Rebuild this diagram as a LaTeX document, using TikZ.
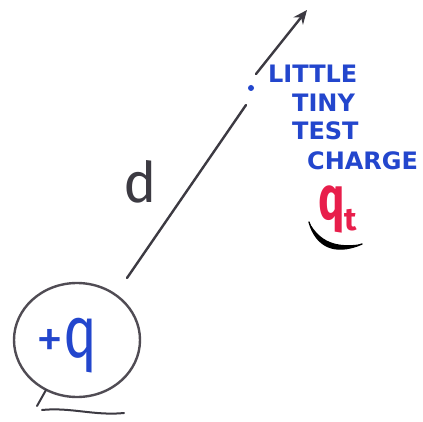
\documentclass[tikz,border=0pt]{standalone}
\usepackage{fontspec}
\setmainfont{Fira Sans}
\newfontfamily\capsfont{DejaVu Sans}
\usetikzlibrary{arrows.meta,shapes.geometric}
\definecolor{ink}{RGB}{60,58,66}
\definecolor{pen}{RGB}{35,70,205}
\definecolor{redpen}{RGB}{232,30,75}
\tikzset{
  stroke/.style={draw=ink, line width=2.4pt, line cap=round, line join=round},
  bluetxt/.style={text=pen, font=\capsfont\fontsize{24}{24}\selectfont\bfseries, inner sep=0pt, anchor=west},
}
\begin{document}
\begin{tikzpicture}[x=1pt,y=-1pt]
\useasboundingbox[fill=white] (0,0) rectangle (423,422);
% source charge
\node[stroke, draw={rgb,255:red,80;green,76;blue,84}, ellipse, minimum width=126pt, minimum height=114pt, inner sep=0pt] (src) at (77,340) {};
\node[text=pen, font=\fontsize{54}{54}\selectfont, inner sep=0pt] (q) at (67,346) {+\scalebox{1.05}[1.35]{q}};
\draw[stroke, line width=2pt] (37,406) -- (46,390);
\draw[stroke, line width=2pt] (42,410) .. controls (70,407) and (95,416) .. (124,413);
% distance arrow
\coordinate (a0) at (127,278);
\coordinate (a1) at (246,105);
\coordinate (a2) at (256,74);
\coordinate (tip) at (307,10);
\draw[stroke] (a0) -- (a1);
\draw[stroke, -{Stealth[length=14pt,width=12pt]}] (a2) -- (tip);
\node[text=ink, font=\fontsize{56}{56}\selectfont, inner sep=0pt] (d) at (140,182) {d};
% test charge
\node[circle, fill=pen, minimum size=6pt, inner sep=0pt] (dot) at (251,88) {};
\node[bluetxt] (l1) at (268,74) {LITTLE};
\node[bluetxt] (l2) at (292,103) {TINY};
\node[bluetxt] (l3) at (292,131) {TEST};
\node[bluetxt] (l4) at (307,161) {CHARGE};
\node[text=redpen, font=\fontsize{44}{44}\selectfont\bfseries, inner sep=0pt, anchor=base west] (qt) at (318,220) {\scalebox{1}[1.4]{q}\raisebox{-0.25em}{\fontsize{32}{32}\selectfont t}};
\fill[black] (309,222) .. controls (316,246) and (334,256) .. (362,244)
  .. controls (336,248) and (320,242) .. (309,222) -- cycle;
\draw[draw=black, line width=1.4pt, line cap=round] (309,222) .. controls (316,246) and (334,256) .. (362,244);
\end{tikzpicture}
\end{document}
